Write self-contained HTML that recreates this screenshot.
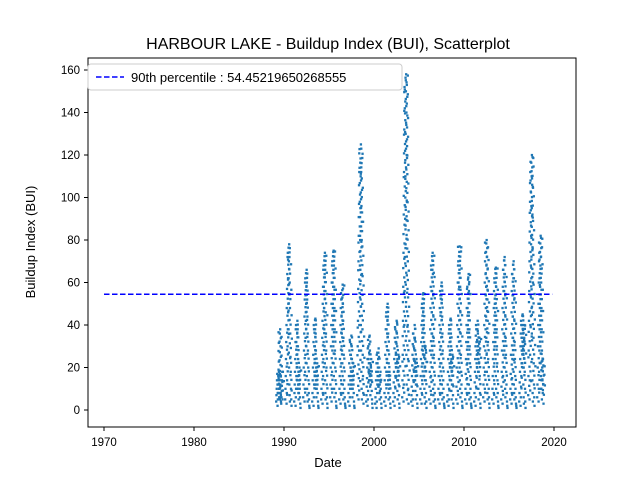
<!DOCTYPE html>
<html><head><meta charset="utf-8"><style>
body{margin:0;background:#fff;}
svg{font-family:"Liberation Sans","DejaVu Sans",sans-serif;}
</style></head><body>
<svg id="chart" width="640" height="480" viewBox="0 0 640 480" xmlns="http://www.w3.org/2000/svg">
<rect width="640" height="480" fill="#fff"/>
<text x="328" y="49" font-size="16" text-anchor="middle">HARBOUR LAKE - Buildup Index (BUI), Scatterplot</text>
<g id="marks"></g>
<line id="p90" stroke="#0000ff" stroke-width="1.5" stroke-dasharray="5.5,2.5"/>
<rect x="88" y="58" width="488" height="369" fill="none" stroke="#000" stroke-width="1"/>
<g id="xaxis"></g>
<g id="yaxis"></g>
<text x="328" y="467" font-size="13" text-anchor="middle">Date</text>
<text transform="translate(35,242) rotate(-90)" font-size="13" text-anchor="middle">Buildup Index (BUI)</text>
<g>
<rect x="88" y="64" width="314" height="26" rx="3" fill="#fff" stroke="#ccc"/>
<line x1="96" y1="77" x2="124" y2="77" stroke="#0000ff" stroke-width="1.5" stroke-dasharray="5.5,2.5"/>
<text x="131" y="82" font-size="13">90th percentile : 54.45219650268555</text>
</g>
</svg>
<script>
const years = [1989,1990,1991,1992,1993,1994,1995,1996,1997,1998,1999,2000,2001,2002,2003,2004,2005,2006,2007,2008,2009,2010,2011,2012,2013,2014,2015,2016,2017,2018];
const seasonValues = [
 [2,5,8,12,15,18,10,6,14,17,38,12,8,4,3,6,9,14,18,5],
 [3,8,14,22,30,38,46,55,62,70,78,72,60,48,36,25,18,10,5,2],
 [2,6,10,16,22,30,36,42,38,30,24,18,12,8,14,20,10,6,3,1],
 [4,10,18,26,34,42,50,58,66,60,52,44,36,28,20,14,8,5,2,1],
 [2,6,12,18,24,30,38,43,36,28,20,14,10,16,22,12,8,4,2,1],
 [3,8,16,24,32,40,48,56,64,74,66,56,46,36,28,20,12,6,3,1],
 [4,10,18,28,38,48,58,66,75,68,58,48,38,28,20,14,8,4,2,1],
 [3,8,14,22,30,38,46,53,59,50,42,34,26,20,14,10,6,3,2,1],
 [2,6,10,14,20,26,31,35,30,24,18,14,10,16,22,12,8,4,2,1],
 [5,15,28,40,55,68,80,95,110,125,112,96,80,64,50,38,26,16,8,3],
 [2,5,9,13,18,22,27,31,35,28,22,17,12,20,24,14,9,5,3,1],
 [1,4,8,12,16,20,24,27,29,25,20,16,12,9,14,18,10,6,3,1],
 [2,6,12,18,24,30,36,42,50,44,36,28,22,16,10,18,12,6,3,1],
 [2,6,11,16,22,27,32,37,42,36,30,24,18,14,20,26,12,7,3,1],
 [4,12,24,40,56,72,90,110,130,150,158,140,120,98,76,57,40,24,10,3],
 [2,5,9,14,19,24,29,34,40,34,28,22,16,12,18,24,12,7,3,1],
 [3,8,14,22,30,38,46,55,48,40,32,26,20,14,24,30,14,8,4,1],
 [3,9,16,26,36,46,56,66,74,64,54,44,34,26,18,12,8,5,2,1],
 [3,8,14,22,30,38,46,54,60,52,44,36,28,20,14,10,6,3,2,1],
 [2,5,10,16,22,28,34,38,43,36,30,24,18,12,20,26,12,7,3,1],
 [3,9,18,28,38,48,58,66,77,68,58,46,36,26,18,12,8,4,2,1],
 [3,8,15,22,30,38,46,55,64,56,46,38,30,22,16,10,6,3,2,1],
 [2,6,11,16,22,28,33,38,42,36,30,24,18,22,28,34,16,8,3,1],
 [4,10,18,28,38,48,58,68,80,72,62,52,42,32,24,16,10,6,3,1],
 [3,8,14,22,30,38,46,54,60,67,58,48,38,30,22,14,8,4,2,1],
 [3,9,16,26,36,46,56,64,72,64,54,44,34,26,18,12,8,4,2,1],
 [3,8,15,24,34,44,54,62,70,62,52,42,32,24,16,10,6,3,2,1],
 [2,6,11,16,22,28,34,40,45,38,32,26,20,28,34,40,18,10,4,1],
 [5,14,26,40,54,68,82,96,110,120,106,92,76,60,46,34,22,12,6,2],
 [4,10,18,28,38,48,58,68,82,72,60,48,38,28,20,14,8,24,12,3]
];
const p90 = 54.45219650268555;
const xTicks = [1970,1980,1990,2000,2010,2020];
const yTicks = [0,20,40,60,80,100,120,140,160];
const lineStart = 1970, lineEnd = 2019.8;

const NS="http://www.w3.org/2000/svg";
const xs = d => 104 + (d-1970)*9;
const ys = v => 410 - v*2.125;
const marks = document.getElementById('marks');
function dot(px,py){
  const c=document.createElementNS(NS,'rect');
  
  
  c.setAttribute('x',px-1.1); c.setAttribute('y',py-1.1);
  c.setAttribute('width',2.3); c.setAttribute('height',2.3);
  c.setAttribute('fill','#1f77b4');
  marks.appendChild(c);
}
years.forEach((y,i)=>{
  const vals = seasonValues[i];
  vals.forEach((v,j)=>{
    const d = y + 0.28 + 0.55*j/(vals.length-1);
    dot(xs(d), ys(v));
    if(j>0){
      const pv = vals[j-1];
      const pd = y + 0.28 + 0.55*(j-1)/(vals.length-1);
      const lo=Math.min(pv,v), hi=Math.max(pv,v);
      let n=0;
      for(let k=lo+2;k<hi;k+=2.2){
        const off=[-1.5,0.5,-0.5,1.5][n%4]; n++;
        dot((xs(d)+xs(pd))/2+off, ys(k));
      }
    }
  });
});
const l=document.getElementById('p90');
l.setAttribute('x1',xs(lineStart)); l.setAttribute('x2',xs(lineEnd));
l.setAttribute('y1',ys(p90)); l.setAttribute('y2',ys(p90));
const xa=document.getElementById('xaxis');
xTicks.forEach(t=>{
  const tl=document.createElementNS(NS,'line');
  
  
  tl.setAttribute('x1',xs(t));tl.setAttribute('x2',xs(t));tl.setAttribute('y1',427);tl.setAttribute('y2',431);tl.setAttribute('stroke','#000');
  xa.appendChild(tl);
  const tx=document.createElementNS(NS,'text');
  
  
  tx.setAttribute('x',xs(t));tx.setAttribute('y',446);tx.setAttribute('font-size','11.5');tx.setAttribute('text-anchor','middle');
  tx.textContent=t; xa.appendChild(tx);
});
const ya=document.getElementById('yaxis');
yTicks.forEach(t=>{
  const tl=document.createElementNS(NS,'line');
  
  
  tl.setAttribute('x1',84);tl.setAttribute('x2',88);tl.setAttribute('y1',ys(t));tl.setAttribute('y2',ys(t));tl.setAttribute('stroke','#000');
  ya.appendChild(tl);
  const tx=document.createElementNS(NS,'text');
  
  
  tx.setAttribute('x',80);tx.setAttribute('y',ys(t)+4);tx.setAttribute('font-size','11.5');tx.setAttribute('text-anchor','end');
  tx.textContent=t; ya.appendChild(tx);
});
</script>
</body></html>
